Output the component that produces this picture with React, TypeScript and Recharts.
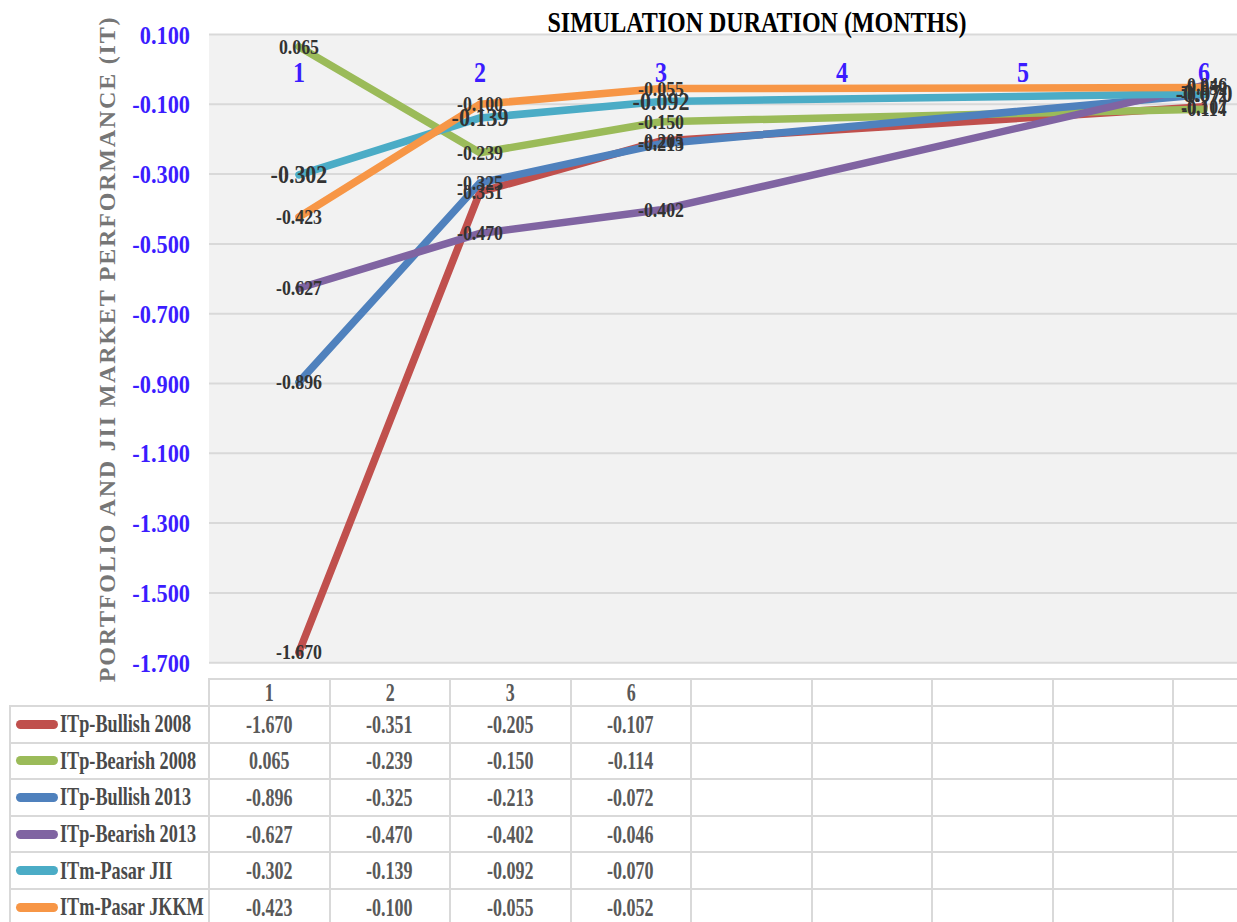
import React from "react";
import { LineChart, Line, XAxis, YAxis, CartesianGrid, LabelList } from "recharts";

// months that carry data, and the month labels drawn across the top
const months = [1, 2, 3, 6];
const axisMonths = [1, 2, 3, 4, 5, 6];
const yTicks = [0.1, -0.1, -0.3, -0.5, -0.7, -0.9, -1.1, -1.3, -1.5, -1.7];

const bullish2008 = [-1.67, -0.351, -0.205, -0.107];
const bearish2008 = [0.065, -0.239, -0.15, -0.114];
const bullish2013 = [-0.896, -0.325, -0.213, -0.072];
const bearish2013 = [-0.627, -0.47, -0.402, -0.046];
const pasarJII = [-0.302, -0.139, -0.092, -0.07];
const pasarJKKM = [-0.423, -0.1, -0.055, -0.052];

const seriesNames = [
  "ITp-Bullish 2008",
  "ITp-Bearish 2008",
  "ITp-Bullish 2013",
  "ITp-Bearish 2013",
  "ITm-Pasar JII",
  "ITm-Pasar JKKM",
];
const seriesValues = [bullish2008, bearish2008, bullish2013, bearish2013, pasarJII, pasarJKKM];
const seriesColors = ["#c0504d", "#9bbb59", "#4f81bd", "#8064a2", "#4bacc6", "#f79646"];

const data = months.map((m, i) => {
  const row: Record<string, number> = { month: m };
  seriesValues.forEach((vals, s) => {
    row["s" + s] = vals[i];
  });
  return row;
});

const SERIF = "'Liberation Serif', 'Times New Roman', serif";
const BLUE = "#3b1cff";
const GRID = "#d9d9d9";
const PLOT_TOP = 34.5;
const PLOT_LEFT = 209;
const CHART_H = 680;
const PLOT_BOTTOM = 662.7;

function SqText({ x, y, text, size, sx, fill, anchor = "middle", baseline = "central" }: any) {
  return (
    <g transform={`translate(${x},${y}) scale(${sx},1)`}>
      <text
        x={0}
        y={0}
        fontSize={size}
        fontFamily={SERIF}
        fontWeight="bold"
        fill={fill}
        textAnchor={anchor}
        dominantBaseline={baseline}
      >
        {text}
      </text>
    </g>
  );
}

const valueLabel = (size: number, sx: number) => (props: any) => {
  const { x, y, value } = props;
  if (value == null) return null;
  return <SqText x={x} y={y} text={Number(value).toFixed(3)} size={size} sx={sx} fill="#333333" />;
};

function YTick(props: any) {
  const { x, y, payload } = props;
  return <SqText x={x} y={y} text={Number(payload.value).toFixed(3)} size={26} sx={0.86} fill={BLUE} anchor="end" />;
}

function MonthTick(props: any) {
  const { x, payload } = props;
  return <SqText x={x} y={PLOT_TOP + 38} text={String(payload.value)} size={30} sx={0.8} fill={BLUE} />;
}

const cellText = (t: string, color = "#595959") => (
  <span
    style={{
      display: "inline-block",
      transform: "scaleX(0.72)",
      fontFamily: SERIF,
      fontWeight: "bold",
      fontSize: 25,
      lineHeight: 1,
      color,
      whiteSpace: "nowrap",
    }}
  >
    {t}
  </span>
);

const border = `2px solid ${GRID}`;

export default function App() {
  return (
    <div
      style={{
        position: "absolute",
        left: 0,
        top: 0,
        width: 1237,
        height: 922,
        overflow: "hidden",
        background: "#fff",
      }}
    >
      {/* plot-area background, drawn behind the transparent chart svg */}
      <div
        style={{
          position: "absolute",
          left: PLOT_LEFT,
          top: PLOT_TOP,
          width: 1237 - PLOT_LEFT,
          height: PLOT_BOTTOM - PLOT_TOP,
          background: "#f2f2f2",
        }}
      />
      <div style={{ position: "absolute", left: 0, top: 0 }}>
        <LineChart
          width={1237}
          height={CHART_H}
          data={data}
          margin={{ top: PLOT_TOP, right: 0, left: 0, bottom: CHART_H - PLOT_BOTTOM }}
        >
          <CartesianGrid vertical={false} stroke={GRID} strokeWidth={2} />
          <XAxis
            dataKey="month"
            type="number"
            orientation="top"
            mirror
            domain={[0.503, 6.182]}
            ticks={axisMonths}
            interval={0}
            axisLine={false}
            tickLine={false}
            tick={MonthTick}
          />
          <YAxis
            type="number"
            width={PLOT_LEFT}
            domain={[-1.7, 0.1]}
            ticks={yTicks}
            interval={0}
            axisLine={false}
            tickLine={false}
            tickSize={0}
            tickMargin={19}
            tick={<YTick />}
          />
          {seriesNames.map((name, s) => (
            <Line
              key={name}
              name={name}
              dataKey={"s" + s}
              stroke={seriesColors[s]}
              strokeWidth={7.5}
              strokeLinecap="round"
              strokeLinejoin="round"
              dot={false}
              activeDot={false}
              isAnimationActive={false}
            >
              <LabelList dataKey={"s" + s} content={s === 4 ? valueLabel(25, 0.88) : valueLabel(21, 0.85)} />
            </Line>
          ))}
        </LineChart>
      </div>

      <svg
        width={1237}
        height={922}
        style={{ position: "absolute", left: 0, top: 0, pointerEvents: "none" }}
      >
        <SqText x={757} y={32} text="SIMULATION DURATION (MONTHS)" size={30} sx={0.8} fill="#000" baseline="alphabetic" />
        <text
          transform="translate(107,349) rotate(-90)"
          textAnchor="middle"
          dominantBaseline="central"
          fontFamily={SERIF}
          fontWeight="bold"
          fontSize={24}
          letterSpacing={1.8}
          fill="#767676"
        >
          PORTFOLIO AND JII MARKET PERFORMANCE (IT)
        </text>
      </svg>

      <table
        style={{
          position: "absolute",
          left: 9,
          top: 678,
          borderCollapse: "collapse",
          tableLayout: "fixed",
          width: 199 + 9 * 120.5,
        }}
      >
        <colgroup>
          <col style={{ width: 199 }} />
          {Array.from({ length: 9 }).map((_, i) => (
            <col key={i} style={{ width: 120.5 }} />
          ))}
        </colgroup>
        <tbody>
          <tr style={{ height: 26 }}>
            <td style={{ borderTop: "hidden", borderLeft: "hidden", borderBottom: border, padding: 0 }} />
            {Array.from({ length: 9 }).map((_, c) => (
              <td key={c} style={{ border, padding: 0, textAlign: "center" }}>
                {c < months.length ? cellText(String(months[c])) : null}
              </td>
            ))}
          </tr>
          {seriesNames.map((name, s) => (
            <tr key={name} style={{ height: 36.6 }}>
              <td style={{ border, padding: 0, whiteSpace: "nowrap", overflow: "visible" }}>
                <div style={{ display: "flex", alignItems: "center" }}>
                  <span
                    style={{
                      display: "inline-block",
                      width: 42,
                      height: 9,
                      borderRadius: 5,
                      background: seriesColors[s],
                      marginLeft: 5,
                      marginRight: 2,
                    }}
                  />
                  <span
                    style={{
                      display: "inline-block",
                      transform: "scaleX(0.7)",
                      transformOrigin: "left center",
                      fontFamily: SERIF,
                      fontWeight: "bold",
                      fontSize: 26,
                      lineHeight: 1,
                      color: "#4a4a4a",
                      whiteSpace: "nowrap",
                      width: 0,
                    }}
                  >
                    {name}
                  </span>
                </div>
              </td>
              {Array.from({ length: 9 }).map((_, c) => (
                <td key={c} style={{ border, padding: 0, textAlign: "center" }}>
                  {c < months.length ? cellText(seriesValues[s][c].toFixed(3)) : null}
                </td>
              ))}
            </tr>
          ))}
        </tbody>
      </table>
    </div>
  );
}
